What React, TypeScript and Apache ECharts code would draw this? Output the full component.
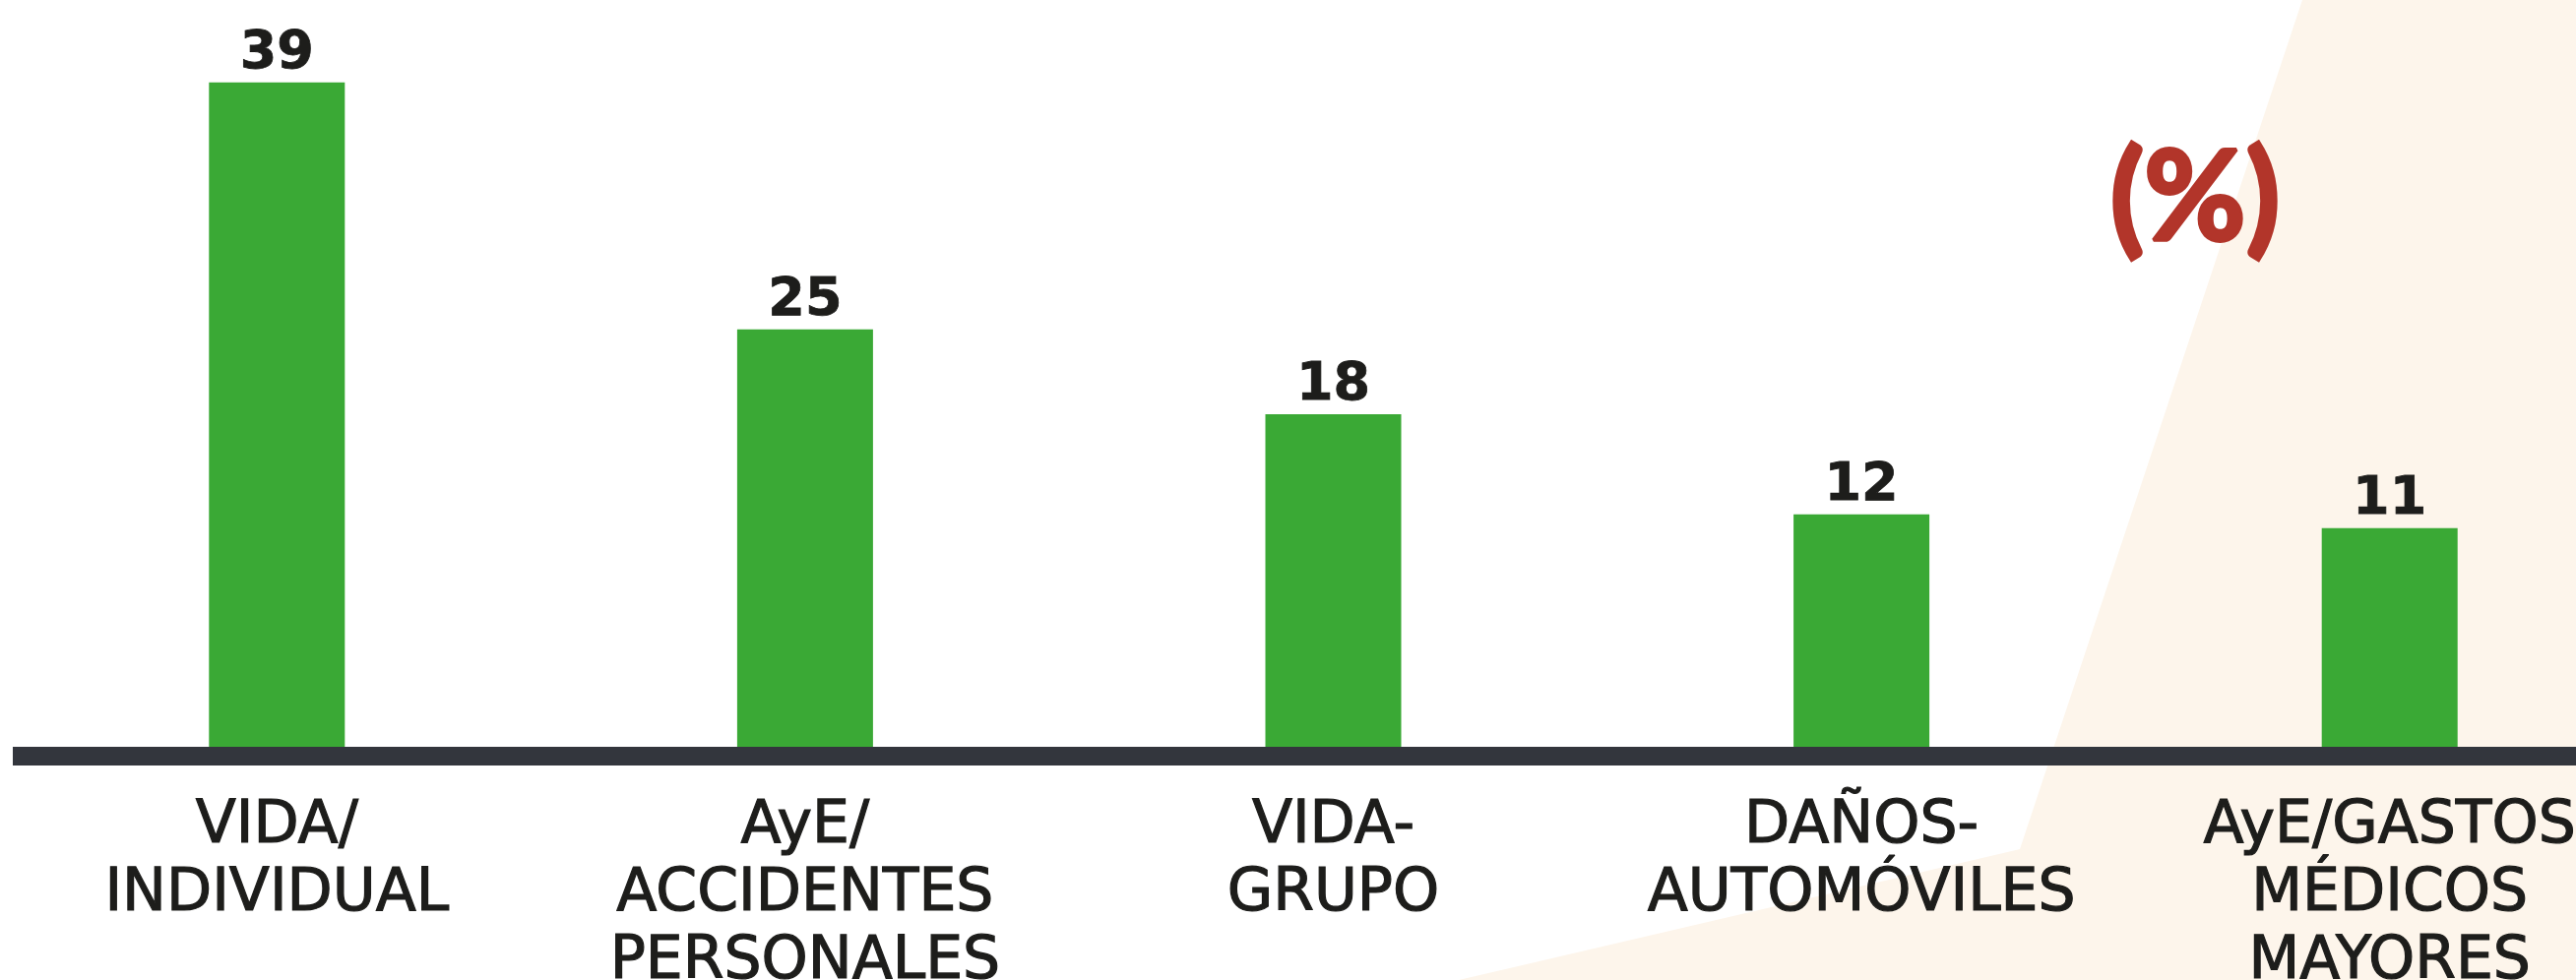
import React, { useEffect, useRef } from "react";
import * as echarts from "echarts";

const categories = [
  "VIDA/\nINDIVIDUAL",
  "AyE/\nACCIDENTES\nPERSONALES",
  "VIDA-\nGRUPO",
  "DAÑOS-\nAUTOMÓVILES",
  "AyE/GASTOS\nMÉDICOS\nMAYORES",
];
// bar heights
const barValues = [39, 24.7, 19.8, 14.0, 13.2];
// printed value labels
const valueLabels = ["39", "25", "18", "12", "11"];
const unitLabel = "(%)";

export default function App() {
  const ref = useRef<HTMLDivElement>(null);
  useEffect(() => {
    if (!ref.current) return;
    const chart = echarts.init(ref.current, undefined, { renderer: "svg" });
    chart.setOption({
      animation: false,
      backgroundColor: "#ffffff",
      grid: {
        left: 13,
        right: -79,
        top: 83.8,
        bottom: 227.5,
        containLabel: false,
        outerBoundsMode: "none",
      },
      xAxis: {
        type: "category",
        data: categories,
        z: 10,
        axisLine: {
          show: true,
          onZero: false,
          lineStyle: { color: "#33363d", width: 19, cap: "butt" },
        },
        axisTick: { show: false },
        axisLabel: {
          interval: 0,
          margin: 32,
          color: "#1d1d1b",
          fontFamily: "DejaVu Sans",
          fontSize: 60,
          lineHeight: 69,
          align: "center",
          textBorderColor: "#1d1d1b",
          textBorderWidth: 1.2,
        },
      },
      yAxis: {
        type: "value",
        min: 0,
        max: 39,
        show: false,
        splitLine: { show: false },
      },
      graphic: [
        {
          type: "polygon",
          z: -1,
          silent: true,
          shape: {
            points: [
              [2339, 0],
              [2617, 0],
              [2617, 996],
              [1482, 996],
              [2052, 863],
            ],
          },
          style: { fill: "#fdf5eb" },
        },
        {
          type: "text",
          z: 100,
          x: 2230,
          y: 195,
          style: {
            text: unitLabel,
            fill: "#b2352a",
            stroke: "#b2352a",
            lineWidth: 4,
            font: "bold 126px Lato",
            textAlign: "center",
            textVerticalAlign: "middle",
          },
        },
      ],
      series: [
        {
          type: "bar",
          data: barValues,
          barWidth: 138,
          itemStyle: { color: "#3aa935" },
          label: {
            show: true,
            position: "top",
            distance: 6,
            color: "#1d1d1b",
            fontFamily: "DejaVu Sans",
            fontWeight: "bold",
            fontSize: 54,
            textBorderColor: "#1d1d1b",
            textBorderWidth: 0.8,
            formatter: (p: any) => valueLabels[p.dataIndex],
          },
        },
      ],
    });
    return () => chart.dispose();
  }, []);
  return (
    <div
      ref={ref}
      style={{ position: "fixed", left: 0, top: 0, width: 2617, height: 996 }}
    />
  );
}
